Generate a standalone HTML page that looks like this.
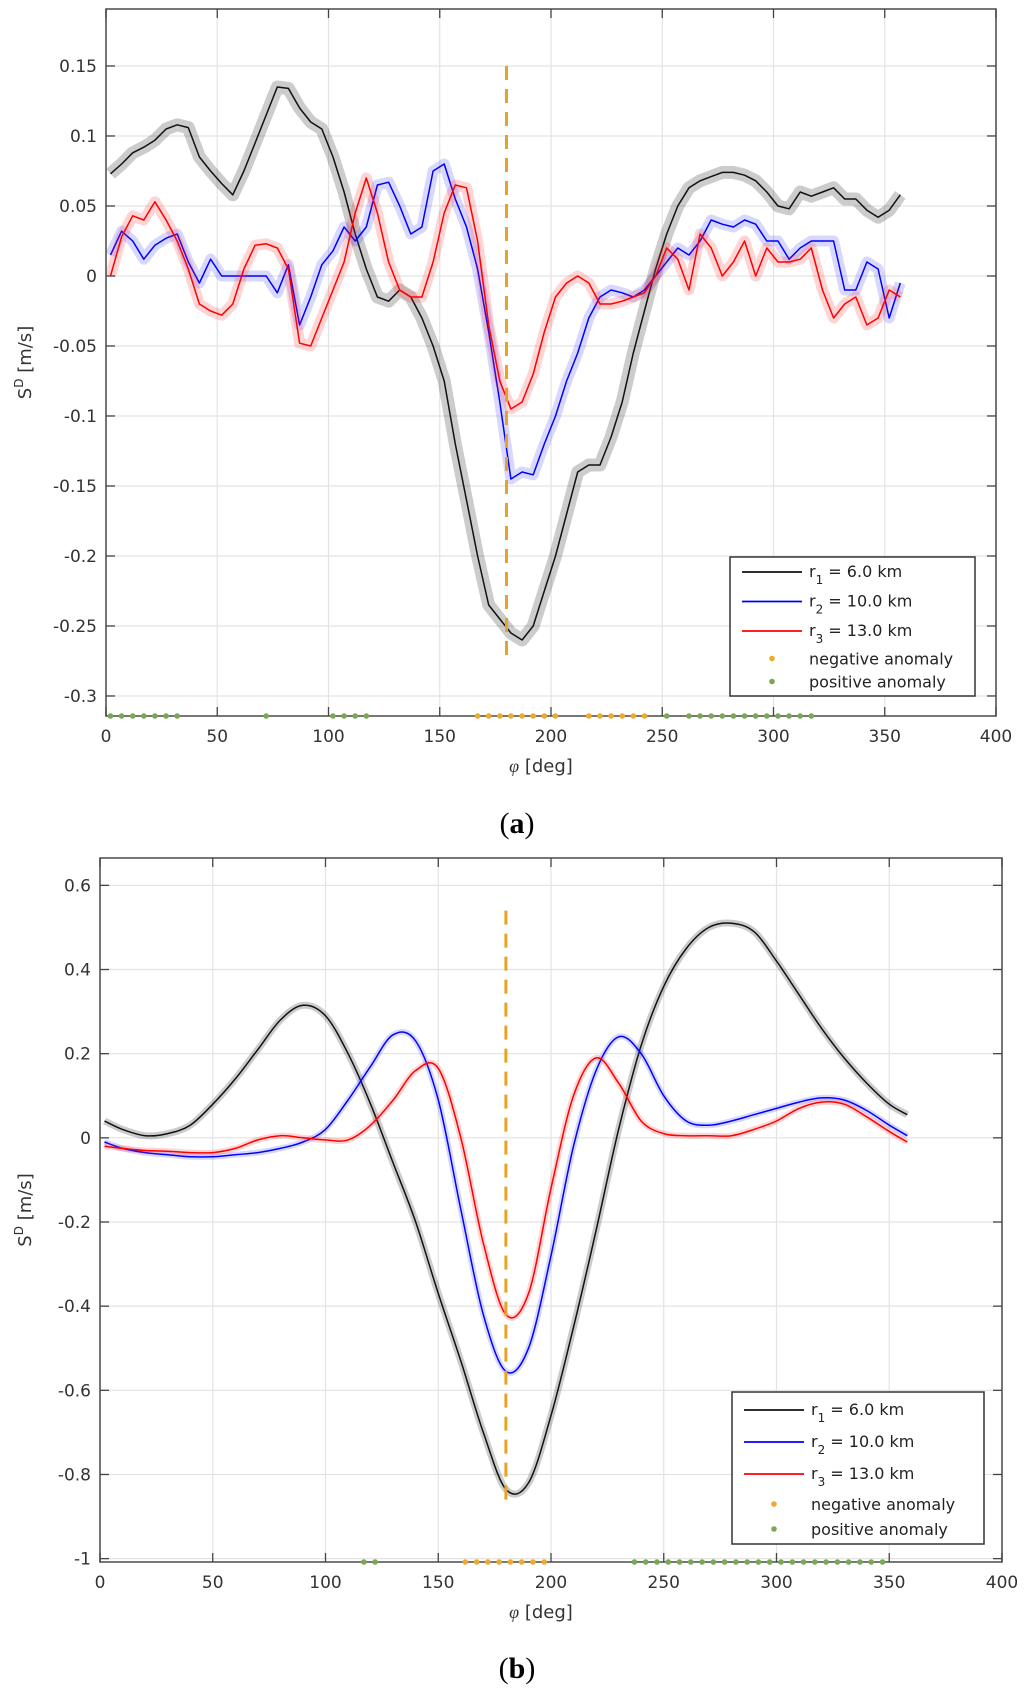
<!DOCTYPE html>
<html><head><meta charset="utf-8">
<style>
html,body{margin:0;padding:0;background:#fff;}
svg{display:block;font-family:"DejaVu Sans","Liberation Sans",sans-serif;}
</style></head>
<body>
<svg id="fig" width="1024" height="1691" viewBox="0 0 1024 1691" xmlns="http://www.w3.org/2000/svg"></svg>
<script>
// ---------- Panel (a) data ----------
const phiA = [];
for (let i = 0; i < 72; i++) phiA.push(2 + 5 * i);
const r1A = [0.073,0.08,0.088,0.092,0.097,0.105,0.108,0.106,0.085,0.075,0.066,0.058,0.075,0.095,0.115,0.135,0.134,0.12,0.11,0.105,0.085,0.06,0.03,0.005,-0.015,-0.018,-0.01,-0.015,-0.03,-0.05,-0.075,-0.12,-0.16,-0.2,-0.235,-0.245,-0.255,-0.26,-0.25,-0.225,-0.2,-0.17,-0.14,-0.135,-0.135,-0.115,-0.09,-0.055,-0.025,0.005,0.03,0.05,0.063,0.068,0.071,0.074,0.074,0.072,0.068,0.06,0.05,0.048,0.06,0.057,0.06,0.063,0.055,0.055,0.047,0.042,0.047,0.058];
const r2A = [0.015,0.032,0.025,0.012,0.022,0.027,0.03,0.01,-0.005,0.012,0,0,0,0,0,-0.012,0.008,-0.035,-0.015,0.008,0.018,0.035,0.025,0.035,0.065,0.067,0.05,0.03,0.035,0.075,0.08,0.055,0.035,0.005,-0.04,-0.09,-0.145,-0.14,-0.142,-0.12,-0.1,-0.075,-0.055,-0.03,-0.015,-0.01,-0.012,-0.015,-0.01,0,0.01,0.02,0.015,0.025,0.04,0.037,0.035,0.04,0.037,0.025,0.025,0.012,0.02,0.025,0.025,0.025,-0.01,-0.01,0.01,0.005,-0.03,-0.005];
const r3A = [0,0.028,0.043,0.04,0.053,0.04,0.025,0.005,-0.02,-0.025,-0.028,-0.02,0.005,0.022,0.023,0.02,0.005,-0.048,-0.05,-0.03,-0.01,0.01,0.045,0.07,0.045,0.01,-0.01,-0.015,-0.015,0.01,0.045,0.065,0.063,0.025,-0.035,-0.075,-0.095,-0.09,-0.07,-0.04,-0.015,-0.005,0,-0.005,-0.02,-0.02,-0.018,-0.015,-0.012,0,0.02,0.012,-0.01,0.03,0.02,0,0.01,0.025,0,0.02,0.01,0.01,0.012,0.02,-0.01,-0.03,-0.02,-0.015,-0.035,-0.03,-0.01,-0.015];
const negA = [167,172,177,182,187,192,197,202,217,222,227,232,237,242];
const posA = [2,7,12,17,22,27,32,72,102,107,112,117,252,262,267,272,277,282,287,292,297,302,307,312,317];
const yTicksA = [0.15,0.1,0.05,0,-0.05,-0.1,-0.15,-0.2,-0.25,-0.3];
const yTickLabelsA = ["0.15","0.1","0.05","0","-0.05","-0.1","-0.15","-0.2","-0.25","-0.3"];

// ---------- Panel (b) data ----------
const phiB = [2,10,20,30,40,50,60,70,80,90,100,110,120,130,140,150,160,170,180,190,200,210,220,230,240,250,260,270,280,290,300,310,320,330,340,350,358];
const r1B = [0.04,0.02,0.005,0.01,0.03,0.08,0.14,0.21,0.28,0.315,0.29,0.2,0.08,-0.06,-0.2,-0.37,-0.53,-0.7,-0.835,-0.82,-0.66,-0.45,-0.22,0.02,0.22,0.36,0.45,0.5,0.51,0.49,0.42,0.34,0.26,0.19,0.13,0.08,0.055];
const r2B = [-0.01,-0.025,-0.035,-0.04,-0.045,-0.045,-0.04,-0.035,-0.025,-0.01,0.02,0.09,0.17,0.245,0.23,0.09,-0.17,-0.42,-0.555,-0.5,-0.28,-0.02,0.16,0.24,0.2,0.1,0.04,0.03,0.04,0.055,0.07,0.085,0.095,0.09,0.065,0.03,0.005];
const r3B = [-0.02,-0.025,-0.03,-0.032,-0.035,-0.035,-0.025,-0.005,0.005,0,-0.005,-0.005,0.03,0.09,0.16,0.165,0,-0.25,-0.42,-0.37,-0.12,0.1,0.19,0.13,0.04,0.01,0.005,0.005,0.005,0.02,0.04,0.07,0.085,0.08,0.05,0.015,-0.01];
const negB = [162,167,172,177,182,187,192,197];
const posB = [117,122,237,242,247,252,257,262,267,272,277,282,287,292,297,302,307,312,317,322,327,332,337,342,347];
const yTicksB = [0.6,0.4,0.2,0,-0.2,-0.4,-0.6,-0.8,-1];
const yTickLabelsB = ["0.6","0.4","0.2","0","-0.2","-0.4","-0.6","-0.8","-1"];

const xTicks = [0,50,100,150,200,250,300,350,400];
const xTickLabels = ["0","50","100","150","200","250","300","350","400"];

const NS = "http://www.w3.org/2000/svg";
const svg = document.getElementById('fig');
function mk(tag, attrs, parent, text) {
  const e = document.createElementNS(NS, tag);
  for (const k in attrs) e.setAttribute(k, attrs[k]);
  if (text !== undefined) e.textContent = text;
  (parent || svg).appendChild(e);
  return e;
}

function linePath(xs, ys, sx, sy, smooth) {
  const P = xs.map((x, i) => [sx(x), sy(ys[i])]);
  if (!smooth) return P.map((p, i) => (i ? 'L' : 'M') + p[0].toFixed(1) + ',' + p[1].toFixed(1)).join('');
  let d = 'M' + P[0][0].toFixed(1) + ',' + P[0][1].toFixed(1);
  for (let i = 0; i < P.length - 1; i++) {
    const p0 = P[i - 1] || P[i], p1 = P[i], p2 = P[i + 1], p3 = P[i + 2] || P[i + 1];
    const c1 = [p1[0] + (p2[0] - p0[0]) / 6, p1[1] + (p2[1] - p0[1]) / 6];
    const c2 = [p2[0] - (p3[0] - p1[0]) / 6, p2[1] - (p3[1] - p1[1]) / 6];
    d += 'C' + c1.map(v => v.toFixed(1)).join(',') + ' ' + c2.map(v => v.toFixed(1)).join(',') + ' ' + p2[0].toFixed(1) + ',' + p2[1].toFixed(1);
  }
  return d;
}

function panel(cfg) {
  const g = mk('g', {});
  
  
  const {L, R, T, B, ymin, ymax} = cfg;
  const sx = v => L + (v - 0) / 400 * (R - L);
  const sy = v => B - (v - ymin) / (ymax - ymin) * (B - T);
  const grid = mk('g', {}, g);
  
  
  xTicks.forEach(t => mk('line', {x1: sx(t), x2: sx(t), y1: T, y2: B, stroke: '#e3e3e3', 'stroke-width': 1.2}, grid));
  cfg.yTicks.forEach(t => mk('line', {x1: L, x2: R, y1: sy(t), y2: sy(t), stroke: '#e3e3e3', 'stroke-width': 1.2}, grid));
  const series = [[cfg.r1, '#111', 'rgba(0,0,0,0.2)', 'series-r1', cfg.bandK], [cfg.r2, '#0000ff', 'rgba(60,60,255,0.2)', 'series-r2', cfg.band], [cfg.r3, '#ff0000', 'rgba(255,40,40,0.2)', 'series-r3', cfg.band]];
  series.forEach(s => {
    const sg = mk('g', {}, g);
    
    
    const d = linePath(cfg.phi, s[0], sx, sy, cfg.smooth);
    const band = mk('path', {d: d, fill: 'none', stroke: s[2], 'stroke-width': s[4], 'stroke-linejoin': 'round'}, sg);
    
    
    const ln = mk('path', {d: d, fill: 'none', stroke: s[1], 'stroke-width': 1.5, 'stroke-linejoin': 'round'}, sg);
    
    
  });
  const dl = mk('line', {x1: sx(180), x2: sx(180), y1: sy(cfg.dashTop), y2: sy(cfg.dashBot), stroke: '#e6a427', 'stroke-width': 3, 'stroke-dasharray': '14,9'}, g);
  
  
  const ax = mk('rect', {x: L, y: T, width: R - L, height: B - T, fill: 'none', stroke: '#555', 'stroke-width': 1.6}, g);
  
  
  xTicks.forEach((t, i) => {
    mk('line', {x1: sx(t), x2: sx(t), y1: B, y2: B - 9, stroke: '#444', 'stroke-width': 1.3}, g);
    mk('line', {x1: sx(t), x2: sx(t), y1: T, y2: T + 9, stroke: '#444', 'stroke-width': 1.3}, g);
    const tl = mk('text', {x: sx(t), y: B + 26, 'font-size': 17, fill: '#333', 'text-anchor': 'middle'}, g, xTickLabels[i]);
    
    
  });
  cfg.yTicks.forEach((t, i) => {
    mk('line', {x1: L, x2: L + 9, y1: sy(t), y2: sy(t), stroke: '#444', 'stroke-width': 1.3}, g);
    mk('line', {x1: R, x2: R - 9, y1: sy(t), y2: sy(t), stroke: '#444', 'stroke-width': 1.3}, g);
    const tl = mk('text', {x: L - 9, y: sy(t) + 6, 'font-size': 17, fill: '#333', 'text-anchor': 'end'}, g, cfg.yLabels[i]);
    
    
  });
  cfg.neg.forEach(p => {
    const c = mk('circle', {cx: sx(p), cy: B, r: 2.8, fill: '#eeaa2a'}, g);
    
    
  });
  cfg.pos.forEach(p => {
    const c = mk('circle', {cx: sx(p), cy: B, r: 2.8, fill: '#79a855'}, g);
    
    
  });
  const xt = mk('text', {x: (L + R) / 2 - 10, y: B + 56, 'font-size': 18, fill: '#333', 'text-anchor': 'middle'}, g);
  
  
  mk('tspan', {'font-style': 'italic', 'font-family': 'Liberation Serif, serif'}, xt, 'φ');
  mk('tspan', {}, xt, ' [deg]');
  const cy = (T + B) / 2;
  const yt = mk('text', {x: 0, y: 0, 'font-size': 18, fill: '#333', 'text-anchor': 'middle', transform: `translate(31,${cy}) rotate(-90)`}, g);
  
  
  mk('tspan', {}, yt, 'S');
  mk('tspan', {dy: -8, 'font-size': 12}, yt, 'D');
  mk('tspan', {dy: 8}, yt, ' [m/s]');
  const lg = mk('g', {}, g);
  
  
  const [lx, ly, lw, lh] = cfg.legend;
  mk('rect', {x: lx, y: ly, width: lw, height: lh, fill: '#fff', stroke: '#333', 'stroke-width': 1.5}, lg);
  const rows = [['#111', '1', ' = 6.0 km'], ['#0000ff', '2', ' = 10.0 km'], ['#ff0000', '3', ' = 13.0 km']];
  const step = cfg.legStep;
  rows.forEach((r, i) => {
    const yy = ly + cfg.legFirst + i * step;
    const e = mk('g', {}, lg);
    
    
    mk('line', {x1: lx + 12, x2: lx + 72, y1: yy, y2: yy, stroke: r[0], 'stroke-width': 1.8}, e);
    const t = mk('text', {x: lx + 79, y: yy + 5, 'font-size': 16, fill: '#222'}, e);
    mk('tspan', {}, t, 'r');
    mk('tspan', {dy: 7, 'font-size': 12}, t, r[1]);
    mk('tspan', {dy: -7}, t, r[2]);
  });
  [['#eeaa2a', 'negative anomaly'], ['#79a855', 'positive anomaly']].forEach((r, i) => {
    const yy = ly + cfg.legFirst + 3 * step + i * cfg.legStep2 - 2;
    const e = mk('g', {}, lg);
    
    
    mk('circle', {cx: lx + 42, cy: yy, r: 2.8, fill: r[0]}, e);
    mk('text', {x: lx + 79, y: yy + 6, 'font-size': 16, fill: '#222'}, e, r[1]);
  });
  const pl = mk('text', {x: cfg.labelX, y: cfg.labelY, 'font-size': 30, 'font-weight': 'bold', 'font-family': 'Liberation Serif, serif', 'text-anchor': 'middle', fill: '#000'}, g);
  
  
  mk('tspan', {'font-weight': 'normal'}, pl, '(');
  mk('tspan', {}, pl, cfg.label);
  mk('tspan', {'font-weight': 'normal'}, pl, ')');
}

panel({name: 'panel-a', L: 106, R: 996, T: 9, B: 716, ymin: -0.3143, ymax: 0.1907,
  phi: phiA, r1: r1A, r2: r2A, r3: r3A, neg: negA, pos: posA, smooth: false, band: 11, bandK: 13,
  yTicks: yTicksA, yLabels: yTickLabelsA, dashTop: 0.15, dashBot: -0.275,
  legend: [730, 557, 245, 139], legFirst: 15, legStep: 29.5, legStep2: 23,
  label: 'a', labelX: 517, labelY: 833});
panel({name: 'panel-b', L: 100, R: 1002, T: 858, B: 1562, ymin: -1.008, ymax: 0.665,
  phi: phiB, r1: r1B, r2: r2B, r3: r3B, neg: negB, pos: posB, smooth: true, band: 6, bandK: 7,
  yTicks: yTicksB, yLabels: yTickLabelsB, dashTop: 0.54, dashBot: -0.87,
  legend: [732, 1392, 252, 152], legFirst: 18, legStep: 32, legStep2: 25,
  label: 'b', labelX: 517, labelY: 1678});
</script>
</body></html>
